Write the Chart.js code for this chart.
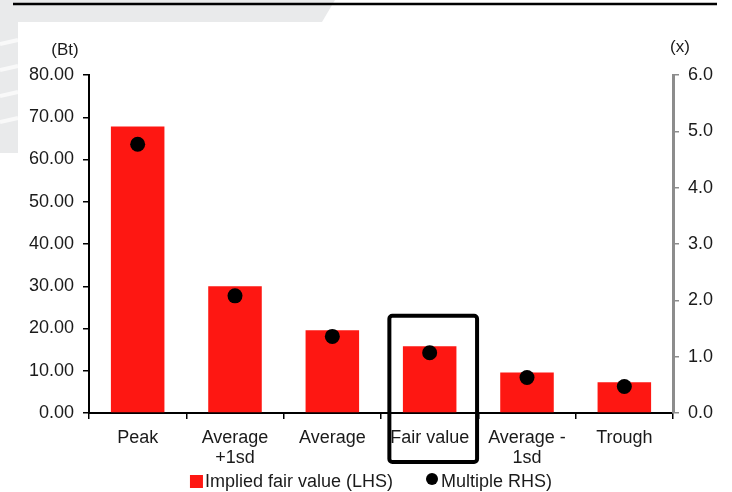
<!DOCTYPE html>
<html>
<head>
<meta charset="utf-8">
<script src="https://cdn.jsdelivr.net/npm/chart.js@4/dist/chart.umd.min.js"></script>
<style>
  html, body { margin: 0; padding: 0; background: #fff; }
  #wrap { width: 732px; height: 492px; }
</style>
</head>
<body>
<div id="wrap"><canvas id="chart" width="732" height="492"></canvas></div>
<script>
// Valuation bands: implied fair value (Bt, left axis) and multiple (x, right axis)
const categories = ['Peak', ['Average', '+1sd'], 'Average', 'Fair value', ['Average -', '1sd'], 'Trough'];
const impliedFairValue = [67.8, 30.0, 19.6, 15.8, 9.6, 7.3];
const multiple = [4.77, 2.08, 1.36, 1.07, 0.63, 0.47];
const leftAxisTicks = { min: 0, max: 80, step: 10 };
const rightAxisTicks = { min: 0, max: 6, step: 1 };
const leftUnit = '(Bt)';
const rightUnit = '(x)';
const seriesNames = ['Implied fair value (LHS)', 'Multiple RHS)'];
const highlightIndex = 3; // "Fair value" band is boxed

const FONT = '"Liberation Sans", Arial, Helvetica, sans-serif';
const TEXT = '#1a1a1a';
const RED = '#fe1712';

// Page backdrop: light grey swoosh band, top rule
const backdrop = {
  id: 'backdrop',
  beforeDraw(chart) {
    const ctx = chart.ctx;
    ctx.save();
    ctx.fillStyle = '#fff';
    ctx.fillRect(0, 0, chart.width, chart.height);
    ctx.fillStyle = '#e9eaeb';
    ctx.beginPath();
    ctx.moveTo(0, 0);
    ctx.lineTo(335, 0);
    ctx.lineTo(322, 22);
    ctx.lineTo(18, 22);
    ctx.lineTo(18, 153);
    ctx.lineTo(0, 153);
    ctx.closePath();
    ctx.fill();
    // soft white streaks across the band
    ctx.strokeStyle = 'rgba(255,255,255,0.7)';
    ctx.lineWidth = 3;
    [[-40, 60, 260], [-20, 70, 300], [10, 80, 330]].forEach(([dy, r, w]) => {
      ctx.beginPath();
      ctx.ellipse(150, 40 + dy, w, r, 0, Math.PI * 1.05, Math.PI * 1.95);
      ctx.stroke();
    });
    ctx.lineWidth = 4;
    [44, 70, 96, 122].forEach(yy => {
      ctx.beginPath();
      ctx.moveTo(0, yy);
      ctx.lineTo(18, yy - 4);
      ctx.stroke();
    });
    ctx.fillStyle = '#fff';
    ctx.fillRect(18, 22, chart.width - 18, chart.height - 22);
    ctx.fillRect(0, 153, 18, chart.height - 153);
    // top rule
    ctx.strokeStyle = '#000';
    ctx.lineWidth = 2.5;
    ctx.beginPath();
    ctx.moveTo(13, 4);
    ctx.lineTo(717, 4);
    ctx.stroke();
    ctx.restore();
  }
};

// Unit captions above each value axis
const axisUnits = {
  id: 'axisUnits',
  afterDraw(chart) {
    const ctx = chart.ctx;
    const top = chart.chartArea.top;
    ctx.save();
    ctx.font = '17px ' + FONT;
    ctx.fillStyle = TEXT;
    ctx.textAlign = 'center';
    ctx.textBaseline = 'middle';
    ctx.fillText(leftUnit, chart.chartArea.left - 24, top - 25);
    ctx.fillText(rightUnit, chart.chartArea.right + 7, top - 28);
    ctx.restore();
  }
};

// Box drawn around the highlighted category
const highlightBox = {
  id: 'highlightBox',
  afterDraw(chart) {
    const x = chart.scales.x, y = chart.scales.y;
    const cw = x.getPixelForValue(1) - x.getPixelForValue(0);
    const cx = x.getPixelForValue(highlightIndex);
    const left = cx - 0.414 * cw, right = cx + 0.487 * cw;
    const top = y.getPixelForValue(23), bottom = y.getPixelForValue(-11.6);
    const ctx = chart.ctx;
    ctx.save();
    ctx.strokeStyle = '#000';
    ctx.lineWidth = 4;
    ctx.beginPath();
    if (ctx.roundRect) ctx.roundRect(left, top, right - left, bottom - top, 3);
    else ctx.rect(left, top, right - left, bottom - top);
    ctx.stroke();
    ctx.restore();
  }
};

// Compact legend beneath the axis
const bottomLegend = {
  id: 'bottomLegend',
  afterDraw(chart) {
    const ctx = chart.ctx;
    const ds = chart.data.datasets;
    const barSet = ds.find(d => d.type === 'bar');
    const dotSet = ds.find(d => d.type === 'line');
    ctx.save();
    ctx.font = '18px ' + FONT;
    ctx.textBaseline = 'middle';
    ctx.textAlign = 'left';
    const w1 = ctx.measureText(barSet.label).width;
    const w2 = ctx.measureText(dotSet.label).width;
    const box = 13, dot = 12, gap1 = 2, gap2 = 3, between = 33;
    const total = box + gap1 + w1 + between + dot + gap2 + w2;
    const cy = 481;
    let xPos = (chart.chartArea.left + chart.chartArea.right) / 2 - 10 - total / 2;
    ctx.fillStyle = barSet.backgroundColor;
    ctx.fillRect(xPos, cy - 6, box, box);
    xPos += box + gap1;
    ctx.fillStyle = TEXT;
    ctx.fillText(barSet.label, xPos, cy + 1);
    xPos += w1 + between;
    ctx.fillStyle = dotSet.pointBackgroundColor;
    ctx.beginPath();
    ctx.arc(xPos + dot / 2, cy - 2, dot / 2, 0, Math.PI * 2);
    ctx.fill();
    xPos += dot + gap2;
    ctx.fillStyle = TEXT;
    ctx.fillText(dotSet.label, xPos, cy + 1);
    ctx.restore();
  }
};

new Chart(document.getElementById('chart'), {
  data: {
    labels: categories,
    datasets: [
      {
        type: 'line',
        label: seriesNames[1],
        data: multiple,
        yAxisID: 'y1',
        showLine: false,
        pointRadius: 7.5,
        pointHoverRadius: 7.5,
        pointBackgroundColor: '#000',
        pointBorderColor: '#000',
        pointBorderWidth: 0,
        order: 0
      },
      {
        type: 'bar',
        label: seriesNames[0],
        data: impliedFairValue,
        yAxisID: 'y',
        backgroundColor: RED,
        borderWidth: 0,
        categoryPercentage: 1,
        barPercentage: 0.55,
        order: 1
      }
    ]
  },
  options: {
    responsive: false,
    animation: false,
    events: [],
    layout: { padding: { left: 0, right: 0, top: 75, bottom: 0 } },
    plugins: { legend: { display: false }, tooltip: { enabled: false } },
    scales: {
      x: {
        offset: true,
        grid: { offset: true, drawOnChartArea: false, drawTicks: true, tickLength: 6, color: '#000', lineWidth: 1.5 },
        border: { display: true, color: '#000', width: 2 },
        ticks: { color: TEXT, font: { family: FONT, size: 18, lineHeight: 1.1 }, padding: 9, maxRotation: 0, autoSkip: false },
        afterFit(scale) { scale.height = 79; }
      },
      y: {
        position: 'left',
        min: leftAxisTicks.min,
        max: leftAxisTicks.max,
        grid: { drawOnChartArea: false, drawTicks: true, tickLength: 6, color: '#000', lineWidth: 1.5 },
        border: { display: true, color: '#000', width: 2 },
        ticks: {
          stepSize: leftAxisTicks.step,
          color: TEXT,
          font: { family: FONT, size: 18 },
          padding: 9,
          callback: v => v.toFixed(2)
        },
        afterFit(scale) { scale.width = 89; }
      },
      y1: {
        position: 'right',
        min: rightAxisTicks.min,
        max: rightAxisTicks.max,
        grid: { drawOnChartArea: false, drawTicks: true, tickLength: 6, color: '#8c8c8c', lineWidth: 1.5 },
        border: { display: true, color: '#8c8c8c', width: 3 },
        ticks: {
          stepSize: rightAxisTicks.step,
          color: TEXT,
          font: { family: FONT, size: 18 },
          padding: 9,
          callback: v => v.toFixed(1)
        },
        afterFit(scale) { scale.width = 59; }
      }
    }
  },
  plugins: [backdrop, axisUnits, highlightBox, bottomLegend]
});
</script>
</body>
</html>
